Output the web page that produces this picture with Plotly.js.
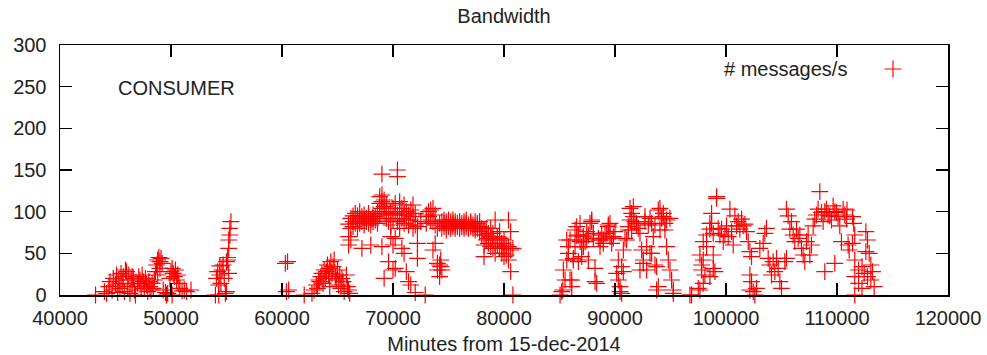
<!DOCTYPE html>
<html>
<head>
<meta charset="utf-8">
<script src="https://cdn.plot.ly/plotly-3.0.1.min.js"></script>
<style>html,body{margin:0;padding:0;background:#fff}#chart{width:987px;height:355px}</style>
</head>
<body>
<div id="chart"></div>
<script>
// Minutes from 15-dec-2014 and # messages/s, grouped by activity burst
var segA_x = [43200,44000,44200,44400,44500,44700,44800,45000,45100,45200,45300,45400,45500,45600,45700,45800,45900,46000,46100,46200,46300,46400,46500,46600,46700,46800,47000,47100,47200,47300,47400,47500,47600,47700,47800,47900,48000,48100,48200,48300,48400,48500,48600,48700,48800,48900,49000,49100,49200,48800,49000,49300,49500,49700,49900,50000,50100,50200,50300,50400,50500,50600,50700,50800,51000,51200,51400,49600,50100,46500,51800];
var segA_y = [0,4,2,10,16,6,20,12,24,3,18,8,26,14,22,4,30,28,10,24,2,18,12,20,6,0,14,22,18,10,24,16,8,20,12,4,16,10,6,14,8,18,28,36,42,45,40,44,38,24,32,6,3,2,20,28,32,26,22,30,18,24,14,8,5,6,4,0,0,22,6];

var segB_x = [54000,54100,54200,54300,54400,54400,54500,54600,54700,54800,54900,55000,55100,55200,55200,55300,55300,55400,55100,54300,55000,55200];
var segB_y = [0,20,28,12,35,24,14,30,36,20,2,4,42,56,66,72,80,88,45,0,40,26];

var segC_x = [60300,60400,60500,60600,62000];
var segC_y = [38,4,40,6,0];

var segD_x = [62700,62900,63100,63200,63300,63500,63600,63700,63800,63900,64000,64100,64200,64300,64400,64500,64600,64700,64800,64900,65000,65100,65200,65300,65400,65500,65600,65800,65900,66000,66100,63400,64300];
var segD_y = [2,6,12,8,18,22,26,14,30,20,28,36,24,32,40,26,34,42,22,18,30,12,24,8,20,16,4,24,10,6,2,16,10];

var segE_x = [66000,66000,66000,66200,66200,66200,66400,66400,66400,66600,66600,66800,66800,66800,67000,67000,67000,67200,67200,67200,67400,67400,67400,67600,67600,67800,67800,67800,68000,68000,68000,68200,68200,68200,68400,68400,68600,68600,68600,68800,68800,68800,69000,69000,69000,69000,69000,69200,69200,69200,69200,69400,69400,69400,69600,69600,69600,69800,69800,69800,70000,70000,70000,70000,70200,70200,70200,70200,70400,70400,70400,70400,70600,70600,70600,70800,70800,70800,71000,71000,71000,71000,71200,71200,71200,71400,71400,71400,71600,71600,71600,71800,71800,71800,72000,72000,72000,72200,72200,72200,72500,72900];
var segE_y = [60,70,85,80,92,66,82,95,88,98,86,90,80,95,92,86,100,56,88,94,90,96,84,92,88,86,94,98,90,84,60,92,96,88,94,90,100,92,86,110,118,96,120,112,104,145,58,114,106,98,20,108,100,92,96,88,40,100,84,70,104,90,30,60,98,110,68,32,150,142,88,96,112,100,80,104,92,56,108,96,86,50,100,90,28,96,84,16,90,102,12,108,94,80,98,84,3,62,44,82,88,0];

var segF_x = [73000,73000,73200,73200,73400,73400,73600,73600,73600,73800,73800,73800,74000,74000,74000,74200,74200,74200,74300,74300,74400,74400,74400,74600,74600,74600,74800,74800,74800,75000,75000,75000,75200,75200,75200,75400,75400,75400,75600,75600,75600,75800,75800,76000,76000,76000,76200,76200,76400,76400,76400,76600,76600,76600,76800,76800,77000,77000,77000,77200,77200,77400,77400,77400,77600,77600,77600,77800,77800,77800,78000,78000,78200,78200,78200,78400,78400,78400,78600,78600,78600,78800,78800,78800,79000,79000,79000,79200,79200,79200,79400,79400,79600,79600,79600,79800,79800,79800,80000,80000,80000,80200,80200,80400,80400,80400,80600,80600,80600,80800,80800];
var segF_y = [86,96,94,100,102,90,104,88,54,96,62,84,38,30,80,36,22,86,42,34,88,80,30,86,82,90,84,88,78,82,86,90,88,80,84,86,82,90,84,88,80,86,82,88,84,80,82,86,84,88,80,82,86,90,84,80,86,82,88,80,84,88,82,78,84,80,86,82,76,88,80,72,78,60,46,72,66,80,62,74,68,58,70,80,66,56,74,90,62,50,70,60,68,56,76,62,50,58,56,46,66,48,60,42,90,58,76,54,28,56,0];

var segG_x = [85050,85200,85300,85350,85500,85650,85650,85800,85800,85950,85950,86100,86100,86250,86250,86400,86400,86550,86550,86700,86700,86850,86850,87000,87000,87150,87150,87300,87450,87450,87600,87600,87750,87900,87900,88050,88050,88200,88200,88350,88500,88650,88650,88800,88950,88950,89100,89250,89400,89400,89550,89550,89700,89850,89850,90000,90150,90300,90300,90450,90450,90600,90600,90750,90750,90900,91050,91200,91200,91350,91350,91500,91500,91650,91650,91800,91950,91950,92100,92250,92250,92400,92550,92550,92700,92700,92850,92850,93000,93150,93150,93300,93300,93450,93600,93600,93750,93750,93900,93900,94050,94050,94200,94350,94350,94500,94500,94650,94650,94800,94950,94950,95100,95250,95250,96750];
var segG_y = [0,4,6,30,18,42,66,50,58,18,66,10,18,42,44,58,78,82,71,72,40,86,64,46,58,58,70,64,66,76,42,72,86,90,88,74,68,32,16,14,68,66,58,72,62,66,74,74,82,84,86,70,62,70,68,76,26,18,42,4,10,34,2,54,28,68,66,82,78,104,90,98,78,94,106,88,86,84,80,74,30,54,38,42,94,88,30,58,84,50,92,86,50,70,36,84,34,6,10,102,104,78,92,94,98,78,86,58,90,42,30,92,18,6,2,0];

var segH_x = [96900,97500,97650,97650,97800,97800,97950,97950,97950,98100,98250,98250,98550,98550,98550,98700,98700,98850,98850,98850,99000,99150,99150,99300,99450,99600,99750,99900,100050,100200,100350,100500,100650,100800,100950,101100,101250,101400,101550,101700,101850,102000,102150,102150,102150,102300,102300,102450,102600,102750,103050,103350,103500,103650,103800,103950,104100,104250,104400,104550,104700,104850,105000,105300,105450,105450,105600,105750,105900,106050,106200,106350,106500,106650,106800,106950,107100,107250,107400,107550,107700,107850,108000,108150,108300,108450,108600,108750,108900,108900,109050,109200,109350,109500,109650,109800,109800,109950,110100,110250,110400,110550,110700,110850,110900,111000,111100,111400,111400,111500,111600,111600,111600,111600,111950,111950,112250,112250,112450,112600,112600,112750,112750,112900,113050,113050,113200,113350];
var segH_y = [0,8,6,48,30,36,14,42,64,24,58,72,79,86,22,86,98,48,74,32,28,116,118,80,72,79,64,72,83,70,103,76,60,95,83,88,79,91,83,85,76,64,52,24,6,46,16,4,0,8,56,62,74,80,44,36,24,40,28,44,32,16,8,40,44,103,95,79,88,72,64,79,68,72,56,48,40,64,72,48,60,83,91,96,103,124,99,88,28,100,103,96,95,90,107,38,100,99,94,83,64,103,96,91,102,60,54,94,62,86,72,42,22,0,30,14,8,34,26,76,52,66,22,50,36,18,28,10];

var xTickVals = [40000,50000,60000,70000,80000,90000,100000,110000,120000];
var yTickVals = [0,50,100,150,200,250,300];
var seriesName = '# messages/s';
var panelLabel = 'CONSUMER';
var chartTitle = 'Bandwidth';
var xTitle = 'Minutes from 15-dec-2014';

var xs = [].concat(segA_x, segB_x, segC_x, segD_x, segE_x, segF_x, segG_x, segH_x);
var ys = [].concat(segA_y, segB_y, segC_y, segD_y, segE_y, segF_y, segG_y, segH_y);

var FONT = 'Liberation Sans, Arial, sans-serif';
var trace = {
  x: xs, y: ys, type: 'scatter', mode: 'markers', name: '',
  cliponaxis: false,
  marker: {symbol: 'cross-thin-open', size: 12, color: 'rgb(255,0,0)', line: {color: 'rgba(255,0,0,0.9)', width: 1.2}},
  showlegend: true
};

var axisCommon = {
  showline: true, linecolor: '#000', linewidth: 1.5, mirror: 'ticks',
  ticks: 'inside', ticklen: 12, tickwidth: 1.5, tickcolor: '#000',
  showgrid: false, zeroline: false,
  tickfont: {family: FONT, size: 20, color: '#222'}
};

var layout = {
  width: 987, height: 355,
  margin: {l: 60, r: 39, t: 45, b: 60},
  paper_bgcolor: '#fff', plot_bgcolor: '#fff',
  font: {family: FONT, size: 20, color: '#222'},
  title: {text: chartTitle, font: {family: FONT, size: 20, color: '#222'}, xref: 'paper', x: 0.5, xanchor: 'center', yref: 'container', y: 1 - 16/355, yanchor: 'middle'},
  xaxis: Object.assign({}, axisCommon, {
    range: [40000, 120000], tickvals: xTickVals, ticktext: xTickVals.map(String),
    ticklabelstandoff: 4,
    title: {text: xTitle, font: {family: FONT, size: 20, color: '#222'}, standoff: 9}
  }),
  yaxis: Object.assign({}, axisCommon, {
    range: [0, 300], tickvals: yTickVals, ticktext: yTickVals.map(String),
    ticklabelstandoff: 8
  }),
  showlegend: true,
  legend: {x: (873-60)/888, xanchor: 'left', y: (295-69)/250, yanchor: 'middle', bgcolor: 'rgba(0,0,0,0)', font: {family: FONT, size: 20}},
  annotations: [
    {text: seriesName, xref: 'paper', yref: 'paper', x: (849-60)/888, y: (295-69)/250, xanchor: 'right', yanchor: 'middle', showarrow: false, font: {family: FONT, size: 20, color: '#222'}},
    {text: panelLabel, xref: 'paper', yref: 'paper', x: (116-60)/888, y: (295-88)/250, xanchor: 'left', yanchor: 'middle', showarrow: false, font: {family: FONT, size: 20, color: '#222'}}
  ]
};

Plotly.newPlot('chart', [trace], layout, {displayModeBar: false, staticPlot: true});
</script>
</body>
</html>
